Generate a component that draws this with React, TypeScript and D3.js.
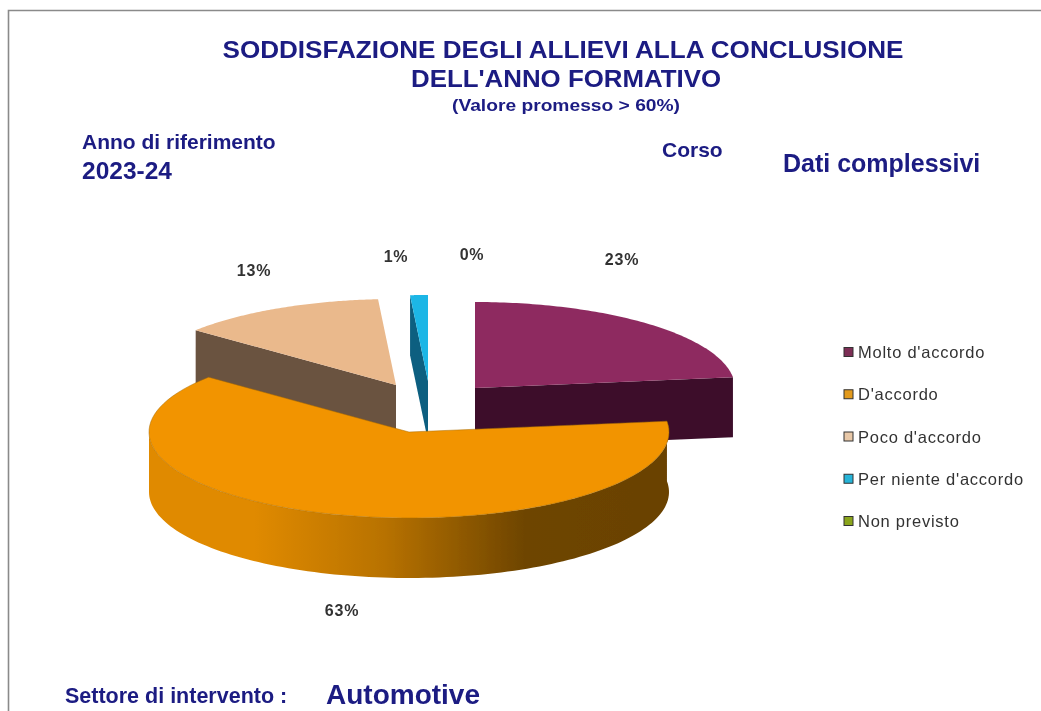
import React from "react";
import * as d3 from "d3";

const categories = ["Molto d'accordo", "D'accordo", "Poco d'accordo", "Per niente d'accordo", "Non previsto"];
const values = [23, 63, 12.9, 1.1, 0];
const topColors = ["#8e2c60", "#f29400", "#eab98c", "#1fb6e6", "#8aa51e"];
const sideColors = ["#3c102c", "#8a5600", "#6b5240", "#0b5f80", "#4a5a10"];
const swatchColors = ["#7c2d55", "#e39a1e", "#e8c8a8", "#26b4d8", "#8aa51e"];
const valueLabels = ["23%", "63%", "13%", "1%", "0%"];
const titleLines = ["SODDISFAZIONE DEGLI ALLIEVI ALLA CONCLUSIONE", "DELL'ANNO FORMATIVO"];

const RX = 260;
const RY = 86;
const DEPTH = 60;
const centers: [number, number][] = [[475, 388], [409, 432], [396, 385], [428, 381], [445, 385]];
const labelPos: [number, number][] = [[622, 265], [342, 616], [254, 276], [396, 262], [472, 260]];
const NAVY = "#1a1a82";
const FONT = "'Liberation Sans', Arial, sans-serif";

export default function App() {
  const arcs = d3.pie<number>().sort(null).value((d) => d)(values);
  const x = d3.scaleLinear().domain([-1, 1]).range([-RX, RX]);
  const y = d3.scaleLinear().domain([-1, 1]).range([RY, -RY]);
  const pt = (i: number, a: number, dz = 0): [number, number] => [
    centers[i][0] + x(Math.sin(a)),
    centers[i][1] + y(Math.cos(a)) + dz,
  ];
  const line = d3.line<[number, number]>();
  const sector = (i: number, dz = 0) => {
    const { startAngle: s, endAngle: e } = arcs[i];
    const pts = d3.range(0, 91).map((k) => pt(i, s + ((e - s) * k) / 90, dz));
    return line([[centers[i][0], centers[i][1] + dz], ...pts])! + "Z";
  };
  const quad = (i: number, a: number) =>
    line([
      [centers[i][0], centers[i][1]],
      pt(i, a),
      pt(i, a, DEPTH),
      [centers[i][0], centers[i][1] + DEPTH],
    ])! + "Z";
  const rim = (i: number) => {
    const a0 = arcs[i].startAngle;
    const a1 = Math.PI * 1.5;
    const n = 120;
    const top = d3.range(0, n + 1).map((k) => pt(i, a0 + ((a1 - a0) * k) / n));
    const bot = top.map(([px, py]) => [px, py + DEPTH] as [number, number]).reverse();
    return line([...top, ...bot])! + "Z";
  };
  const legendY = d3.scalePoint<string>().domain(categories).range([352, 521]);

  return (
    <svg width={1041} height={711} style={{ position: "absolute", left: 0, top: 0, background: "#fff" }} fontFamily={FONT}>
      <defs>
        <linearGradient id="rimGrad" gradientUnits="userSpaceOnUse" x1={150} x2={670} y1={0} y2={0}>
          <stop offset="0" stopColor="#e08a00" />
          <stop offset="0.2" stopColor="#e08a00" />
          <stop offset="0.45" stopColor="#b87200" />
          <stop offset="0.72" stopColor="#6e4500" />
          <stop offset="1" stopColor="#6a4200" />
        </linearGradient>
        <filter id="soft" x="-5%" y="-5%" width="110%" height="110%">
          <feGaussianBlur stdDeviation="0.5" />
        </filter>
      </defs>
      <path d="M8.5 711V10.5H1041" fill="none" stroke="#8a8a8a" strokeWidth={1.6} />

      <g filter="url(#soft)">
        <path d={quad(0, arcs[0].endAngle)} fill={sideColors[0]} />
        <path d={sector(0)} fill={topColors[0]} />
        <path d={quad(2, arcs[2].startAngle)} fill={sideColors[2]} />
        <path d={sector(2)} fill={topColors[2]} />
        <path d={quad(3, arcs[3].startAngle)} fill={sideColors[3]} />
        <path d={sector(3)} fill={topColors[3]} />
        <path d={rim(1)} fill="url(#rimGrad)" />
        <path d={sector(1)} fill={topColors[1]} stroke="#a86c00" strokeWidth={0.5} />
      </g>

      <g filter="url(#soft)">
        <g fill={NAVY} fontWeight="bold" textAnchor="middle">
          <text x={563} y={58} fontSize={24} textLength={681} lengthAdjust="spacingAndGlyphs">{titleLines[0]}</text>
          <text x={566} y={87} fontSize={24} textLength={310} lengthAdjust="spacingAndGlyphs">{titleLines[1]}</text>
          <text x={566} y={111} fontSize={17} textLength={228} lengthAdjust="spacingAndGlyphs">(Valore promesso  &gt; 60%)</text>
        </g>
        <g fill={NAVY} fontWeight="bold">
          <text x={82} y={149} fontSize={21}>Anno di riferimento</text>
          <text x={82} y={179} fontSize={24.5}>2023-24</text>
          <text x={662} y={157} fontSize={21}>Corso</text>
          <text x={783} y={172} fontSize={25}>Dati complessivi</text>
          <text x={65} y={703} fontSize={21.5}>Settore di intervento :</text>
          <text x={326} y={704} fontSize={28}>Automotive</text>
        </g>
        {valueLabels.map((t, i) => (
          <text key={t} x={labelPos[i][0]} y={labelPos[i][1]} fontSize={16} letterSpacing={0.8} fontWeight="bold" fill="#333" textAnchor="middle">{t}</text>
        ))}
        {categories.map((c, i) => (
          <g key={c}>
            <rect x={844} y={legendY(c)! - 4.5} width={9} height={9} fill={swatchColors[i]} stroke="#333" strokeWidth={1} />
            <text x={858} y={legendY(c)! + 6} fontSize={16.5} letterSpacing={0.75} fill="#333">{c}</text>
          </g>
        ))}
      </g>
    </svg>
  );
}
